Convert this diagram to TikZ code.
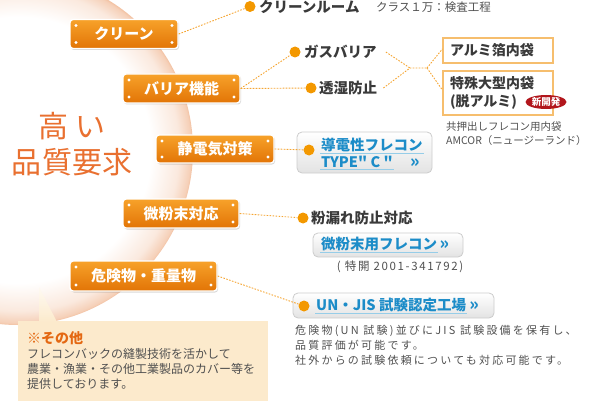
\documentclass[tikz,border=0pt]{standalone}
\usepackage{fontspec}
\setmainfont{Noto Sans CJK JP}
\newfontfamily\widejp{Noto Sans CJK JP}[LetterSpace=14]
\newfontfamily\linkjp{Noto Sans CJK JP}[Ligatures=TeXOff]
\usetikzlibrary{shapes.geometric,shadows,positioning,calc}

\definecolor{btntop}{RGB}{247,162,42}
\definecolor{btnbot}{RGB}{226,116,6}
\definecolor{dotorange}{RGB}{243,152,0}
\definecolor{linkorange}{RGB}{245,165,50}
\definecolor{tagedge}{RGB}{246,190,110}
\definecolor{linkblue}{RGB}{28,140,200}
\definecolor{ulblue}{RGB}{150,205,232}
\definecolor{inkgray}{RGB}{58,58,58}
\definecolor{textgray}{RGB}{80,80,80}
\definecolor{titleorange}{RGB}{233,112,48}
\definecolor{arcpeach}{RGB}{242,192,160}
\definecolor{notefill}{RGB}{252,234,204}
\definecolor{noteorange}{RGB}{228,104,18}
\definecolor{badgered}{RGB}{178,22,28}

\pgfdeclareradialshading{arcglow}{\pgfpoint{0bp}{0bp}}{color(0bp)=(white); color(19bp)=(white); color(23bp)=(arcpeach!35); color(24.7bp)=(arcpeach!75); color(25bp)=(arcpeach); color(50bp)=(arcpeach)}

\begin{document}
\begin{tikzpicture}[x=1pt,y=-1pt,
  btn/.style={draw=white,line width=1.4pt,rounded corners=3pt,top color=btntop,bottom color=btnbot,
    text=white,font=\fontsize{15}{15}\selectfont\bfseries,minimum height=29pt,inner sep=0pt,
    drop shadow={opacity=.3,shadow xshift=1pt,shadow yshift=-1.5pt},
    path picture={\foreach \c/\dx/\dy in {north west/6/-6,north east/-6/-6,south west/6/6,south east/-6/6}
      \fill[white] ([xshift=\dx pt,yshift=\dy pt]path picture bounding box.\c) circle (1.7pt);}},
  gbtn/.style={draw=gray!40,line width=.8pt,rounded corners=5pt,top color=white,bottom color=gray!22,inner sep=0pt},
  dot/.style={circle,fill=dotorange,inner sep=0pt,minimum size=11pt},
  link/.style={draw=linkorange,line width=.9pt,dash pattern=on 1.6pt off 1.4pt},
  item/.style={anchor=west,text=inkgray,font=\fontsize{14.5}{15}\selectfont\bfseries,inner sep=0pt},
  linktext/.style={anchor=west,text=linkblue,font=\linkjp\fontsize{14.5}{15}\selectfont\bfseries,inner sep=1pt},
  more/.style={linktext,inner sep=0pt,font=\linkjp\fontsize{17}{17}\selectfont\bfseries},
  uline/.style={draw=ulblue,line width=.8pt},
  tag/.style={draw=tagedge,line width=1.3pt,fill=white,minimum width=110pt,text width=96pt,
    inner xsep=7pt,align=left,text=inkgray,font=\fontsize{14}{18}\selectfont\bfseries},
  badge/.style={ellipse,fill=badgered,text=white,inner sep=0pt,minimum width=41pt,minimum height=14pt,
    font=\fontsize{9.5}{10}\selectfont\bfseries},
  small/.style={text=textgray,inner sep=0pt,align=left,font=\widejp\fontsize{11}{15}\selectfont},
  title/.style={text=titleorange,inner sep=0pt,font=\fontsize{30}{30}\selectfont}]

\useasboundingbox (0,0) rectangle (596,401);
\clip (0,0) rectangle (596,401);

% glow behind the buttons
\shade[shading=arcglow] (18,150) circle (175pt);

% note bubble
\fill[notefill] (18,321) rectangle (268,401);
\shade[top color=notefill!25,bottom color=notefill] (39,287) -- (39,322) -- (57,322) -- cycle;

\node[title] (high) at (72,126) {高 い};
\node[title] (req)  at (72,162) {品質要求};

\node[btn,minimum width=108pt] (clean)   at (124,34)    {クリーン};
\node[btn,minimum width=117pt] (barrier) at (181.5,88.5) {バリア機能};
\node[btn,minimum width=118pt,minimum height=28pt] (static) at (215,149) {静電気対策};
\node[btn,minimum width=116pt] (powder)  at (181,213.5) {微粉末対応};
\node[btn,minimum width=147pt,minimum height=30pt] (danger) at (143.5,276) {危険物・重量物};

% clean room
\node[dot]  (d1)   at (250,6.5) {};
\node[item] (room) at (259,6.5) {クリーンルーム};
\node[small,anchor=west,font=\fontsize{11.5}{12}\selectfont] (cls) at (376,7) {クラス１万：検査工程};

% barrier
\node[dot]  (d2)    at (295,52) {};
\node[item] (gas)   at (304,52) {ガスバリア};
\node[dot]  (d3)    at (311,88) {};
\node[item] (moist) at (319,88) {透湿防止};
\coordinate (j1) at (410,68);
\coordinate (j2) at (427,68);
\node[tag,minimum height=25pt] (foil) at (498,50.5) {アルミ箔内袋};
\node[tag,minimum height=44pt] (noal) at (498,93)   {特殊大型内袋\\(脱アルミ)};
\node[badge] (new) at (546,102) {新開発};
\node[small,anchor=north west,font=\fontsize{10.5}{14}\selectfont] (amcor) at (446,121)
   {共押出しフレコン用内袋\\AMCOR（ニュージーランド）};

% conductive
\node[gbtn,minimum width=135pt,minimum height=41pt] (cbtn) at (364.5,152.5) {};
\node[dot]      (d5)    at (309,150) {};
\node[linktext] (cond)  at (320,145) {導電性フレコン};
\node[linktext] (typec) at (320,162) {TYPE" C "};
\node[more]     (more1) at (410,163) {»};
\draw[uline] (cond.south west) -- (cond.south east);
\draw[uline] (typec.south west) -- (typec.south east);

% powder
\node[dot]  (d4)   at (303,218) {};
\node[item] (leak) at (311,218) {粉漏れ防止対応};
\node[gbtn,minimum width=150pt,minimum height=24pt] (pbtn) at (388,245) {};
\node[linktext] (pflc) at (320,244) {微粉末用フレコン};
\node[more,right=1pt of pflc,yshift=-1.5pt] (more2) {»};
\draw[uline] (pflc.south west) -- (pflc.south east);
\node[small,font=\widejp\fontsize{11.5}{12}\selectfont] (pat) at (400,267) {( 特開 2001-341792)};

% UN / JIS
\node[gbtn,minimum width=201pt,minimum height=25pt] (ubtn) at (393.5,305.5) {};
\node[dot]      (d6)    at (304,306) {};
\node[linktext] (unjis) at (315,305) {UN・JIS 試験認定工場};
\node[more,right=2pt of unjis,yshift=-1.5pt] (more3) {»};
\draw[uline] (unjis.south west) -- (unjis.south east);
\node[small,anchor=north west,font=\widejp\fontsize{11}{15}\selectfont\addfontfeature{LetterSpace=20}] (undesc) at (295,325)
   {危険物(UN 試験)並びにJIS 試験設備を保有し、\\品質評価が可能です。\\社外からの試験依頼についても対応可能です。};

% other uses
\node[anchor=west,text=noteorange,inner sep=0pt,font=\fontsize{14}{14}\selectfont\bfseries] (other) at (27,338) {※その他};
\node[small,anchor=north west,font=\fontsize{12}{15}\selectfont] (otherdesc) at (27,348)
   {フレコンバックの縫製技術を活かして\\農業・漁業・その他工業製品のカバー等を\\提供しております。};

\draw[link] (clean.east) -- (d1);
\foreach \t in {d2,d3} \draw[link] (barrier.east) -- (\t);
\draw[link] (static.east) -- (d5);
\draw[link] (powder.east) -- (d4);
\draw[link] (danger.east) -- (d6);
\draw[link] ([xshift=9pt]gas.east) -- (j1);
\draw[link] ([xshift=6pt]moist.east) -- (j1) -- (j2);
\draw[link] (j2) -- ([yshift=1.5pt]foil.west);
\draw[link] (j2) -- ([yshift=3pt]noal.west);
\end{tikzpicture}
\end{document}
